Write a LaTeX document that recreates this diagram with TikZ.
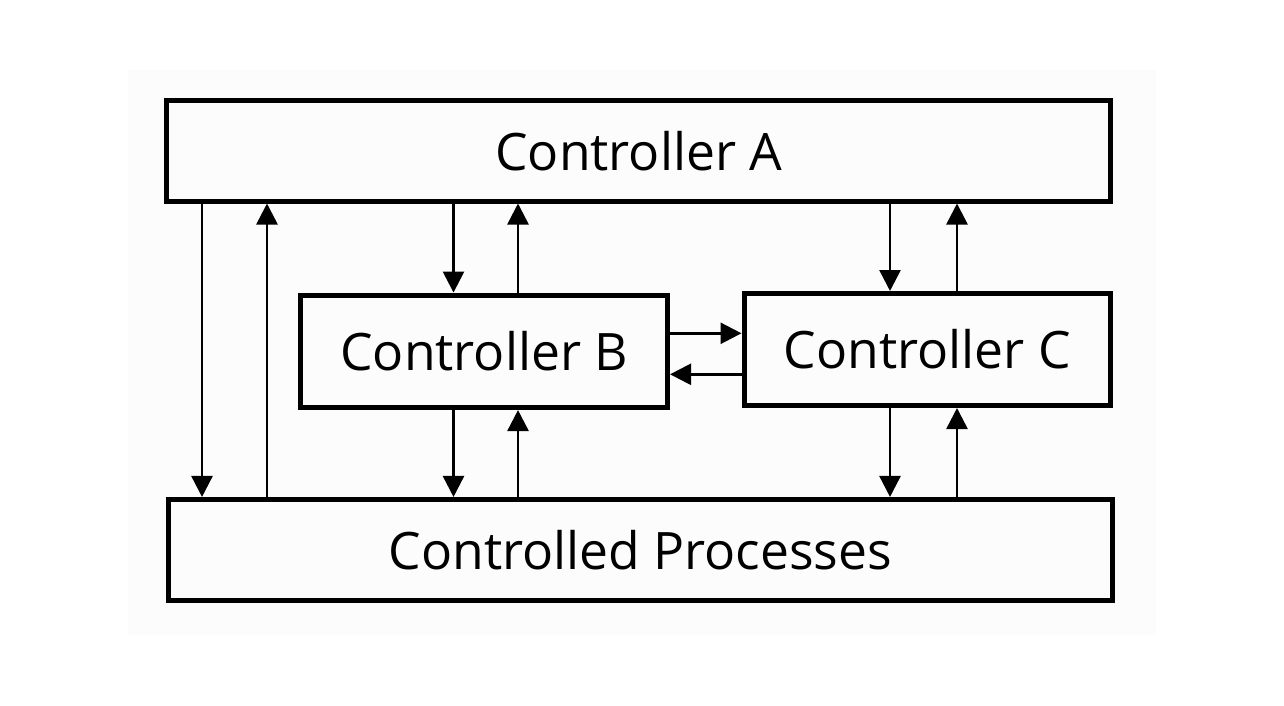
\documentclass[tikz,border=0pt]{standalone}
\usepackage{fontspec}
\setmainfont{Open Sans}
\usetikzlibrary{arrows.meta}
\begin{document}
\begin{tikzpicture}[x=1pt,y=-1pt,
  box/.style={draw=black,line width=5pt,rectangle,inner sep=0pt,
    font=\fontsize{51.6}{60}\selectfont,text=black},
  sig/.style={line width=2.6pt,-{Triangle[length=21pt,width=21pt]}}]
\useasboundingbox (0,0) rectangle (1284,706);
\fill[white] (0,0) rectangle (1284,706);
\fill[black!1] (128,70) rectangle (1156,635);
\node[box,minimum width=944pt,minimum height=100.2pt] (A) at (638.8,150.9) {Controller A};
\node[box,minimum width=366.7pt,minimum height=112.5pt] (B) at (484.2,351.3) {Controller B};
\node[box,minimum width=366.8pt,minimum height=112pt] (C) at (927.4,349.5) {Controller C};
\node[box,minimum width=944.2pt,minimum height=101.3pt] (P) at (640.4,550.1) {Controlled Processes};
% A <-> P
\draw[sig] (A.south -| 202,0) -- (P.north -| 202,0);
\draw[sig] (P.north -| 267,0) -- (A.south -| 267,0);
% A <-> B
\draw[sig] (A.south -| 453.5,0) -- (B.north -| 453.5,0);
\draw[sig] (B.north -| 518,0) -- (A.south -| 518,0);
% B <-> P
\draw[sig] (B.south -| 453.5,0) -- (P.north -| 453.5,0);
\draw[sig] (P.north -| 518,0) -- (B.south -| 518,0);
% A <-> C
\draw[sig] (A.south -| 890,0) -- (C.north -| 890,0);
\draw[sig] (C.north -| 957,0) -- (A.south -| 957,0);
% C <-> P
\draw[sig] (C.south -| 890,0) -- (P.north -| 890,0);
\draw[sig] (P.north -| 957,0) -- (C.south -| 957,0);
% B <-> C
\draw[sig] (B.east |- 0,333.3) -- (C.west |- 0,333.3);
\draw[sig] (C.west |- 0,374.3) -- (B.east |- 0,374.3);
\end{tikzpicture}
\end{document}
